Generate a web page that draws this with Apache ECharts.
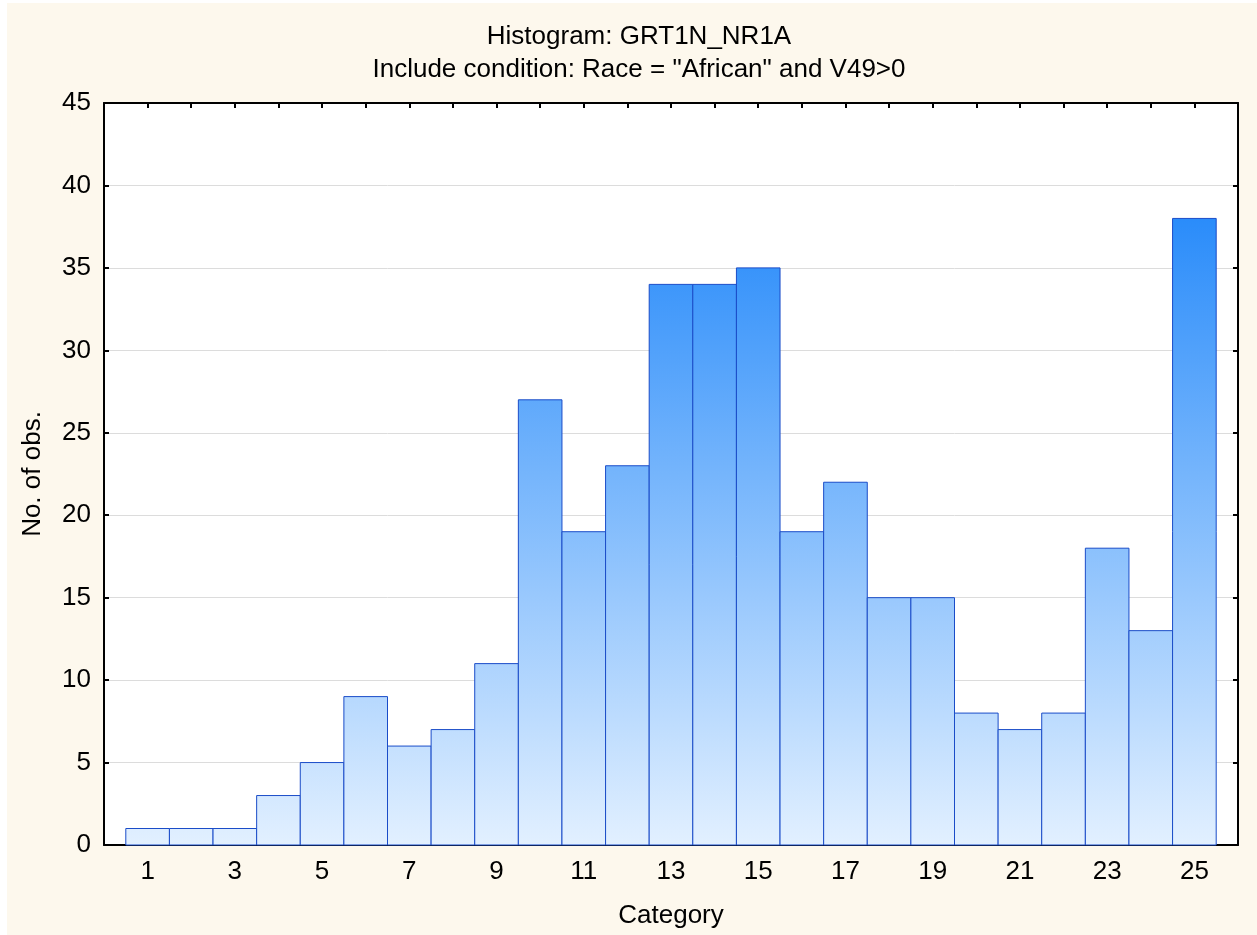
<!DOCTYPE html>
<html>
<head>
<meta charset="utf-8">
<script src="https://cdn.jsdelivr.net/npm/echarts@6/dist/echarts.min.js"></script>
<style>
html,body{margin:0;padding:0;background:#ffffff;}
#chart{position:absolute;left:7px;top:3px;width:1250px;height:932px;}
</style>
</head>
<body>
<div id="chart"></div>
<script>
const categories = [1,2,3,4,5,6,7,8,9,10,11,12,13,14,15,16,17,18,19,20,21,22,23,24,25];
const counts = [1,1,1,3,5,9,6,7,11,27,19,23,34,34,35,19,22,15,15,8,7,8,18,13,38];
const xTickLabels = [1,3,5,7,9,11,13,15,17,19,21,23,25];
const yTicks = [0,5,10,15,20,25,30,35,40,45];
const titleText = 'Histogram: GRT1N_NR1A\nInclude condition: Race = "African" and V49>0';
const xName = 'Category';
const yName = 'No. of obs.';

const FONT = '"Liberation Sans", Arial, sans-serif';
const FS = 26;
const maxCount = Math.max.apply(null, counts);

const chart = echarts.init(document.getElementById('chart'), null, {renderer: 'canvas'});

function renderBar(params, api) {
  const x = api.value(0);
  const v = api.value(1);
  const p1 = api.coord([x - 0.5, v]);
  const p2 = api.coord([x + 0.5, 0]);
  const yZero = api.coord([0, 0])[1];
  const yMax = api.coord([0, maxCount])[1];
  return {
    type: 'rect',
    shape: {x: p1[0], y: p1[1], width: p2[0] - p1[0], height: p2[1] - p1[1]},
    style: {
      fill: {
        type: 'linear', x: 0, y: yZero, x2: 0, y2: yMax, global: true,
        colorStops: [
          {offset: 0, color: '#e2f0ff'},
          {offset: 1, color: '#2a8cfa'}
        ]
      },
      stroke: '#1a4cc8',
      lineWidth: 1
    }
  };
}

const option = {
  backgroundColor: '#fdf8ed',
  animation: false,
  title: {
    text: titleText,
    top: 12,
    left: 627,
    textAlign: 'center',
    textStyle: {fontFamily: FONT, fontSize: FS, fontWeight: 'normal', color: '#000', lineHeight: 33}
  },
  grid: {left: 97, right: 19, top: 100, bottom: 90, show: true, backgroundColor: '#ffffff', borderWidth: 0},
  xAxis: [{
    type: 'value', min: 0, max: 26, interval: 1, position: 'bottom',
    name: xName, nameLocation: 'middle', nameGap: 58,
    nameTextStyle: {fontFamily: FONT, fontSize: FS, color: '#000'},
    axisLine: {show: true, onZero: false, lineStyle: {color: '#000', width: 2}},
    axisTick: {show: true, inside: true, length: 5, lineStyle: {color: '#000', width: 2}},
    axisLabel: {
      fontFamily: FONT, fontSize: FS, color: '#000', margin: 14,
      formatter: function (v) { return xTickLabels.indexOf(v) >= 0 ? String(v) : ''; }
    },
    splitLine: {show: false}
  }, {
    type: 'value', min: 0, max: 26, interval: 1, position: 'top',
    axisLine: {show: true, onZero: false, lineStyle: {color: '#000', width: 2}},
    axisTick: {show: true, inside: true, length: 5, lineStyle: {color: '#000', width: 2}},
    axisLabel: {show: false},
    splitLine: {show: false}
  }],
  yAxis: [{
    type: 'value', min: yTicks[0], max: yTicks[yTicks.length - 1], interval: 5, position: 'left',
    name: yName, nameLocation: 'middle', nameGap: 58, nameRotate: 90,
    nameTextStyle: {fontFamily: FONT, fontSize: FS, color: '#000'},
    axisLine: {show: true, onZero: false, lineStyle: {color: '#000', width: 2}},
    axisTick: {show: true, inside: true, length: 5, lineStyle: {color: '#000', width: 2}},
    axisLabel: {fontFamily: FONT, fontSize: FS, color: '#000', margin: 13},
    splitLine: {show: true, lineStyle: {color: '#dcdcdc', width: 1}}
  }, {
    type: 'value', min: yTicks[0], max: yTicks[yTicks.length - 1], interval: 5, position: 'right',
    axisLine: {show: true, onZero: false, lineStyle: {color: '#000', width: 2}},
    axisTick: {show: true, inside: true, length: 5, lineStyle: {color: '#000', width: 2}},
    axisLabel: {show: false},
    splitLine: {show: false}
  }],
  series: [{
    type: 'custom',
    renderItem: renderBar,
    xAxisIndex: 0, yAxisIndex: 0,
    encode: {x: 0, y: 1},
    data: categories.map(function (c, i) { return [c, counts[i]]; }),
    z: 3
  }]
};
chart.setOption(option);
</script>
</body>
</html>
